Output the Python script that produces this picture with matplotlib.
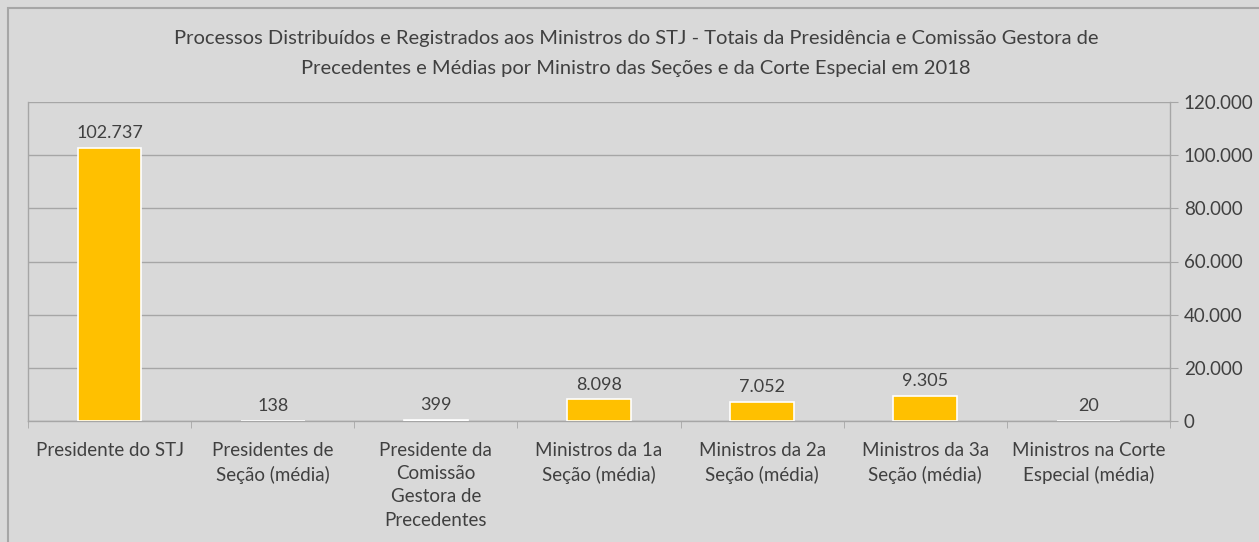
import matplotlib.pyplot as plt
import matplotlib.patches as patches
import numpy as np

# chart data
categorias = ['Presidente do STJ', 'Presidentes de\nSeção (média)',
              'Presidente da\nComissão\nGestora de\nPrecedentes',
              'Ministros da 1a\nSeção (média)', 'Ministros da 2a\nSeção (média)',
              'Ministros da 3a\nSeção (média)', 'Ministros na Corte\nEspecial (média)']
valores = [102737, 138, 399, 8098, 7052, 9305, 20]
y_ticks = [0, 20000, 40000, 60000, 80000, 100000, 120000]

titulo = ('Processos Distribuídos e Registrados aos Ministros do STJ - Totais da Presidência e Comissão Gestora de\n'
          'Precedentes e Médias por Ministro das Seções e da Corte Especial em 2018')

BG = '#d9d9d9'
GRID = '#a6a6a6'
TXT = '#404040'

plt.rcParams['font.family'] = ['Lato', 'DejaVu Sans']

def fmt(v):
    # brazilian thousands separator
    return '{:,}'.format(int(v)).replace(',', '.')

W, H = 1259, 542
fig = plt.figure(figsize=(W / 100, H / 100), dpi=100, facecolor=BG)

# outer chart border
fig.patches.append(patches.Rectangle((8 / W, -0.1), 2, (H - 8) / H + 0.1, transform=fig.transFigure,
                                     fill=False, edgecolor=GRID, linewidth=1.5))

ax = fig.add_axes([28 / W, (H - 421) / H, (1170 - 28) / W, (421 - 102) / H])
ax.set_facecolor(BG)

x = np.arange(len(valores))
ax.bar(x, valores, width=0.39, color='#ffc000', edgecolor='white', linewidth=1.2, zorder=3)
for xi, v in zip(x, valores):
    ax.annotate(fmt(v), (xi, v), xytext=(0, 5), textcoords='offset points',
                ha='center', va='bottom', fontsize=13, color=TXT)

ax.set_xlim(-0.5, len(valores) - 0.5)
ax.set_ylim(0, 120000)
ax.yaxis.tick_right()
ax.set_yticks(y_ticks)
ax.set_yticklabels([fmt(t) for t in y_ticks], fontsize=13.5, color=TXT)
ax.tick_params(axis='y', direction='out', length=6, color=GRID, pad=4)
ax.grid(axis='y', color=GRID, linewidth=1, zorder=0)

ax.set_xticks(x)
ax.set_xticklabels(categorias, fontsize=13.5, color=TXT, linespacing=1.45, va='top')
ax.tick_params(axis='x', length=0, pad=15)
ax.set_xticks(np.arange(len(valores) + 1) - 0.5, minor=True)
ax.tick_params(axis='x', which='minor', direction='out', length=5, color=GRID)

for s in ax.spines.values():
    s.set_color(GRID)
    s.set_linewidth(1)
ax.spines['top'].set_visible(False)

fig.text(0.505, (H - 30) / H, titulo, ha='center', va='top', fontsize=14.5, color=TXT, linespacing=1.9)

fig.savefig('out.png', dpi=100, facecolor=BG)
